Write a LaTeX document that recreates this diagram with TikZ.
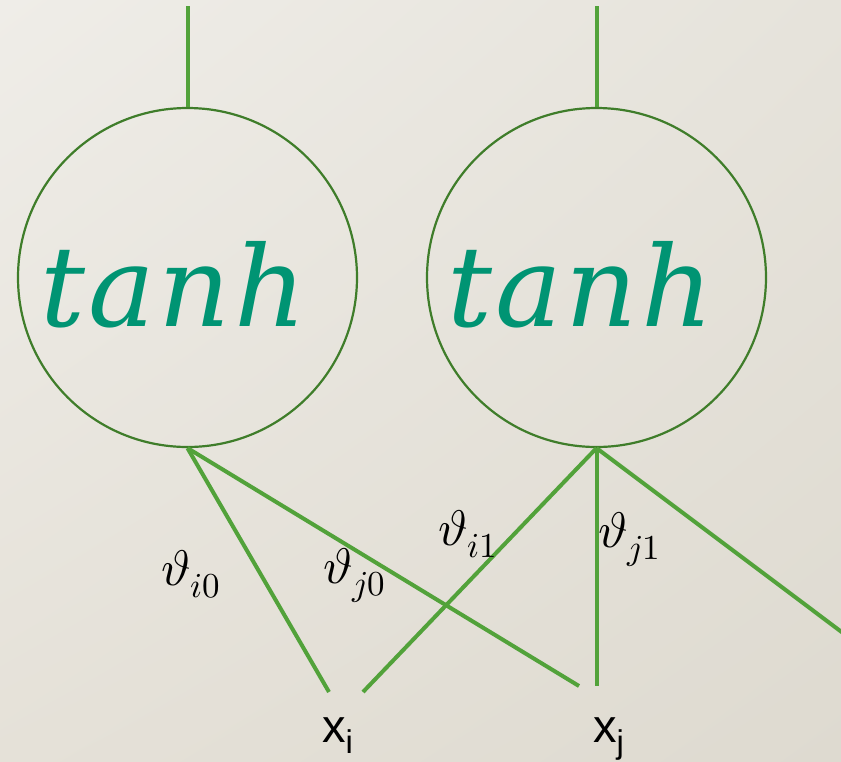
\documentclass[tikz,border=0pt]{standalone}
\usepackage{fontspec}
\usepackage{unicode-math}
\setmainfont{Liberation Sans}
\newfontfamily\actfont{DejaVu Serif}[LetterSpace=3]
\usetikzlibrary{calc,shadings}
\definecolor{bgUL}{HTML}{EFEDE8}
\definecolor{bgUR}{HTML}{E6E3DB}
\definecolor{bgLL}{HTML}{E5E1D8}
\definecolor{bgLR}{HTML}{DEDAD0}
\definecolor{wireC}{HTML}{52A23A}
\definecolor{circC}{HTML}{3F7D2A}
\definecolor{tanhC}{HTML}{009473}
\tikzset{
  neuron/.style={circle, draw=circC, line width=2.2pt, minimum size=339pt, inner sep=0pt},
  wire/.style={draw=wireC, line width=4pt},
  actlab/.style={anchor=base west, inner sep=0pt, text=tanhC, font=\actfont\itshape\fontsize{112}{130}\selectfont},
  wlab/.style={anchor=base west, inner sep=0pt, text=black, font=\fontsize{50}{60}\selectfont},
  xlab/.style={anchor=base west, inner sep=0pt, text=black, font=\fontsize{47}{55}\selectfont},
}
\begin{document}
\begin{tikzpicture}[x=1pt,y=-1pt]
\shade[upper left=bgUL, upper right=bgUR, lower left=bgLL, lower right=bgLR] (0,0) rectangle (841,761);
\useasboundingbox (0,0) rectangle (841,761);
% neurons
\node[neuron] (c1) at (187.5,277.5) {};
\node[neuron] (c2) at (596.5,277.5) {};
\node[actlab] (t1) at (40,326) {tanh};
\node[actlab] (t2) at (447,326) {tanh};
% free ends
\coordinate (top1) at (187.5,6);
\coordinate (top2) at (596.5,6);
\coordinate (xia) at (329,692);
\coordinate (xib) at (363,692);
\coordinate (xja) at (579,686);
\coordinate (xjb) at (596.5,686);
\coordinate (xk) at (843,633);
% connectors
\draw[wire] (c1.north) -- (top1);
\draw[wire] (c2.north) -- (top2);
\draw[wire] (c1.south) -- (xia);
\draw[wire] (c1.south) -- (xja);
\draw[wire] (c2.south) -- (xib);
\draw[wire] (c2.south) -- (xjb);
\draw[wire] (c2.south) -- (xk);
% weight labels
\node[wlab] (w1) at (161,585) {$\vartheta_{i0}$};
\node[wlab] (w2) at (323,583) {$\vartheta_{j0}$};
\node[wlab] (w3) at (438,545) {$\vartheta_{i1}$};
\node[wlab] (w4) at (598,547) {$\vartheta_{j1}$};
% inputs
\node[xlab] (xi) at (322,742) {x\textsubscript{i}};
\node[xlab] (xj) at (593,742) {x\textsubscript{j}};
\end{tikzpicture}
\end{document}
